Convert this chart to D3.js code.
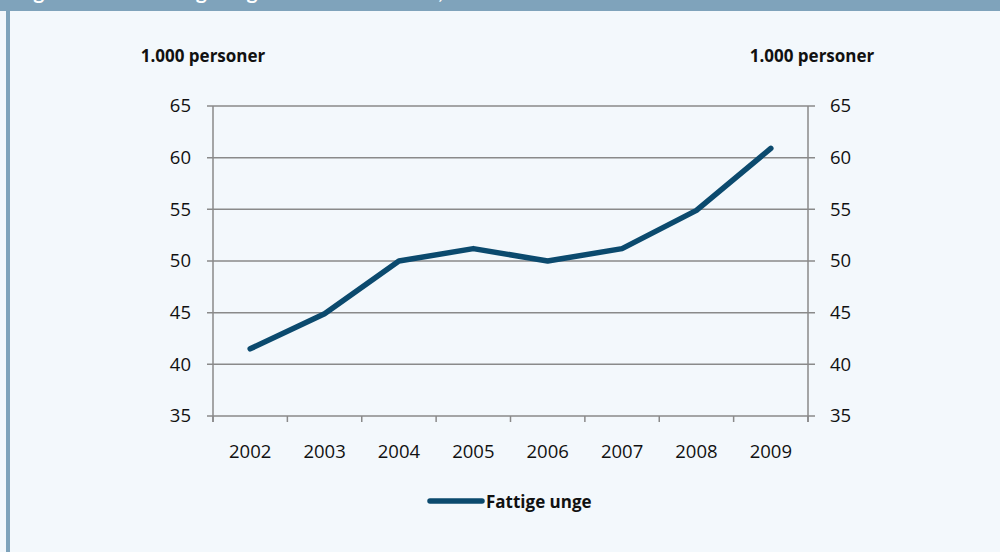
<!DOCTYPE html>
<html>
<head>
<meta charset="utf-8">
<script src="https://cdn.jsdelivr.net/npm/d3@7"></script>
<style>
  body { margin: 0; background: #f3f8fc; }
  svg { display: block; }
</style>
</head>
<body>
<div id="chart"></div>
<script>
// data
const years = ["2002", "2003", "2004", "2005", "2006", "2007", "2008", "2009"];
const fattigeUnge = [41.5, 44.9, 50.0, 51.2, 50.0, 51.2, 54.9, 60.9];
const yTicks = [35, 40, 45, 50, 55, 60, 65];
const seriesName = "Fattige unge";
const unitLabel = "1.000 personer";
const title = "Figur 3.4  Antal fattige unge i alderen 18-29 år, 2002-2009";

const width = 1000, height = 552;
const plot = {left: 213, right: 808, top: 106, bottom: 416};

const svg = d3.select("#chart").append("svg")
    .attr("width", width)
    .attr("height", height);

// frame
svg.append("rect").attr("width", width).attr("height", height).attr("fill", "#f3f8fc");
svg.append("rect").attr("x", 0).attr("y", 0).attr("width", width).attr("height", 11).attr("fill", "#7fa3bb");
svg.append("rect").attr("x", 6).attr("y", 0).attr("width", 4).attr("height", height).attr("fill", "#7fa3bb");

// title, mostly cut off at the top as in the reference
svg.append("text")
    .attr("x", 16)
    .attr("y", -1)
    .attr("fill", "#ffffff")
    .attr("font-family", "Lato, sans-serif")
    .attr("font-weight", "bold")
    .attr("font-size", 21)
    .text(title);

var x = d3.scaleBand()
    .domain(years)
    .range([plot.left, plot.right]);

var y = d3.scaleLinear()
    .domain([35, 65])
    .range([plot.bottom, plot.top]);

// gridlines
svg.append("g")
    .selectAll("line")
    .data(yTicks)
    .enter()
    .append("line")
        .attr("x1", plot.left - 6)
        .attr("x2", plot.right + 7)
        .attr("y1", d => y(d))
        .attr("y2", d => y(d))
        .attr("stroke", "#8a8a8a")
        .attr("stroke-width", 1.5);

// vertical axes
[plot.left, plot.right].forEach(px => {
    svg.append("line")
        .attr("x1", px).attr("x2", px)
        .attr("y1", plot.top).attr("y2", plot.bottom + 6)
        .attr("stroke", "#8a8a8a")
        .attr("stroke-width", 1.5);
});

// x tick marks at band edges
const edges = years.map(d => x(d)).concat([plot.right]);
svg.append("g")
    .selectAll("line")
    .data(edges)
    .enter()
    .append("line")
        .attr("x1", d => d).attr("x2", d => d)
        .attr("y1", plot.bottom).attr("y2", plot.bottom + 6)
        .attr("stroke", "#8a8a8a")
        .attr("stroke-width", 1.5);

const tickFont = "'Open Sans', sans-serif";
const tickSize = 18.5;

// left y labels
svg.append("g")
    .selectAll("text")
    .data(yTicks)
    .enter()
    .append("text")
        .attr("x", 191)
        .attr("y", d => y(d))
        .attr("dy", "0.35em")
        .attr("text-anchor", "end")
        .attr("font-family", tickFont)
        .attr("font-size", tickSize)
        .attr("fill", "#111")
        .text(d => d);

// right y labels
svg.append("g")
    .selectAll("text")
    .data(yTicks)
    .enter()
    .append("text")
        .attr("x", 830)
        .attr("y", d => y(d))
        .attr("dy", "0.35em")
        .attr("text-anchor", "start")
        .attr("font-family", tickFont)
        .attr("font-size", tickSize)
        .attr("fill", "#111")
        .text(d => d);

// x labels
svg.append("g")
    .selectAll("text")
    .data(years)
    .enter()
    .append("text")
        .attr("x", d => x(d) + x.bandwidth() / 2)
        .attr("y", 452)
        .attr("dy", "0.35em")
        .attr("text-anchor", "middle")
        .attr("font-family", tickFont)
        .attr("font-size", tickSize)
        .attr("fill", "#111")
        .text(d => d);

// unit labels
[[203, unitLabel], [812, unitLabel]].forEach(([cx, t]) => {
    svg.append("text")
        .attr("x", cx)
        .attr("y", 56)
        .attr("dy", "0.35em")
        .attr("text-anchor", "middle")
        .attr("font-family", "'Open Sans', sans-serif")
        .attr("font-weight", "bold")
        .attr("font-size", 17)
        .attr("fill", "#111")
        .text(t);
});

// the line
const line = d3.line()
    .x((d, i) => x(years[i]) + x.bandwidth() / 2)
    .y(d => y(d));

svg.append("path")
    .datum(fattigeUnge)
    .attr("d", line)
    .attr("fill", "none")
    .attr("stroke", "#0b4a6e")
    .attr("stroke-width", 5.5)
    .attr("stroke-linecap", "round")
    .attr("stroke-linejoin", "round");

// legend
svg.append("line")
    .attr("x1", 430).attr("x2", 482)
    .attr("y1", 501).attr("y2", 501)
    .attr("stroke", "#0b4a6e")
    .attr("stroke-width", 5.5)
    .attr("stroke-linecap", "round");

svg.append("text")
    .attr("x", 486)
    .attr("y", 502)
    .attr("dy", "0.35em")
    .attr("font-family", "'Open Sans', sans-serif")
    .attr("font-weight", "bold")
    .attr("font-size", 17)
    .attr("fill", "#111")
    .text(seriesName);
</script>
</body>
</html>
